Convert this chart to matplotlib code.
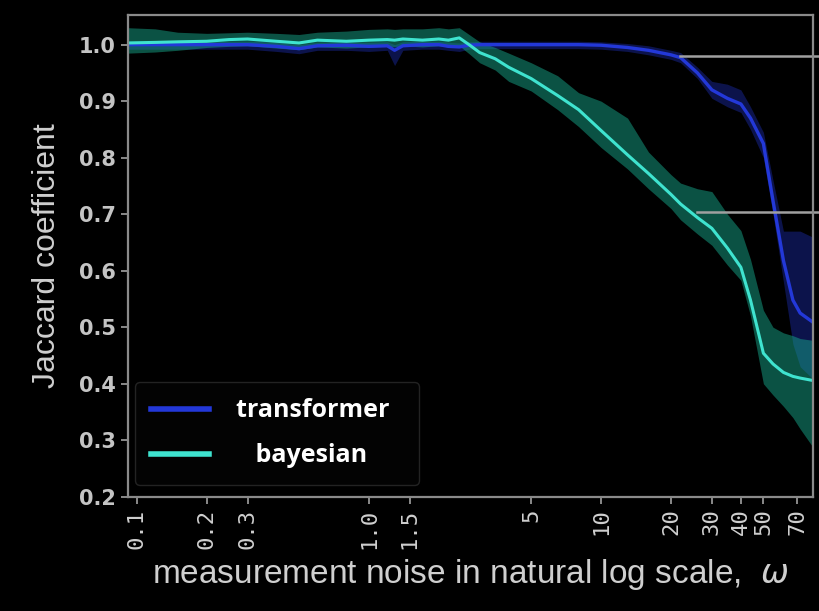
import matplotlib
matplotlib.use('Agg')
import matplotlib.pyplot as plt
from matplotlib.ticker import FixedLocator, FixedFormatter, NullLocator

# noise levels (omega) sampled along the x axis
noise = [0.0915, 0.12, 0.15, 0.2, 0.25, 0.3, 0.4, 0.5, 0.6, 0.8, 1.0, 1.2, 1.29, 1.4,
         1.7, 2.0, 2.2, 2.45, 2.7, 3.0, 3.5, 4.0, 5.0, 6.5, 8.0, 10, 13, 16, 20, 22, 26, 30, 35,
         40, 44, 50, 55, 61, 67, 72, 81]

transformer = [1.0, 1.0, 1.0, 1.0, 1.0, 1.0, 0.997, 0.993, 0.998, 0.999, 0.997, 0.998, 0.99, 0.998,
               1.0, 1.0, 0.997, 0.996, 0.999, 1.0, 1.0, 1.0, 1.0, 1.0, 1.0, 0.999, 0.995, 0.99, 0.982, 0.977,
               0.95, 0.92, 0.905, 0.895, 0.87, 0.825, 0.724, 0.618, 0.548, 0.525, 0.51]
transformer_lo = [0.992, 0.992, 0.992, 0.992, 0.992, 0.992, 0.988, 0.984, 0.99, 0.99, 0.988, 0.99, 0.963, 0.99,
                  0.992, 0.992, 0.99, 0.988, 0.992, 0.993, 0.993, 0.993, 0.993, 0.993, 0.993, 0.992, 0.988, 0.982,
                  0.974, 0.968, 0.94, 0.905, 0.89, 0.88, 0.85, 0.80, 0.70, 0.58, 0.47, 0.43, 0.41]
transformer_hi = [1.006, 1.006, 1.006, 1.006, 1.006, 1.006, 1.004, 1.0, 1.004, 1.005, 1.004, 1.005, 1.0, 1.005,
                  1.006, 1.006, 1.004, 1.003, 1.005, 1.006, 1.006, 1.006, 1.006, 1.006, 1.006, 1.005, 1.002, 0.998,
                  0.99, 0.986, 0.96, 0.935, 0.93, 0.92, 0.89, 0.845, 0.76, 0.67, 0.67, 0.67, 0.66]

bayesian = [1.003, 1.004, 1.005, 1.006, 1.009, 1.01, 1.006, 1.003, 1.008, 1.006, 1.008, 1.009, 1.008, 1.01,
            1.008, 1.01, 1.008, 1.012, 1.0, 0.986, 0.975, 0.96, 0.94, 0.91, 0.885, 0.848, 0.805, 0.772,
            0.735, 0.718, 0.694, 0.675, 0.64, 0.606, 0.548, 0.454, 0.435, 0.42, 0.413, 0.41, 0.406]
bayesian_lo = [0.985, 0.987, 0.99, 0.995, 0.997, 0.998, 0.994, 0.991, 0.996, 0.994, 0.996, 0.997, 0.996, 0.998,
               0.996, 0.998, 0.996, 0.998, 0.984, 0.968, 0.955, 0.935, 0.918, 0.885, 0.855, 0.818, 0.78, 0.745,
               0.71, 0.69, 0.665, 0.645, 0.61, 0.583, 0.52, 0.40, 0.38, 0.36, 0.34, 0.32, 0.29]
bayesian_hi = [1.03, 1.028, 1.022, 1.02, 1.021, 1.022, 1.02, 1.018, 1.022, 1.024, 1.027, 1.028, 1.027, 1.028,
               1.028, 1.03, 1.028, 1.03, 1.018, 1.005, 0.995, 0.985, 0.968, 0.945, 0.915, 0.9, 0.87, 0.81,
               0.77, 0.755, 0.745, 0.74, 0.70, 0.671, 0.62, 0.53, 0.50, 0.49, 0.485, 0.48, 0.477]

xticks = [0.1, 0.2, 0.3, 1.0, 1.5, 5, 10, 20, 30, 40, 50, 70]
xticklabels = ['0.1', '0.2', '0.3', '1.0', '1.5', '5', '10', '20', '30', '40', '50', '70']
yticks = [0.2, 0.3, 0.4, 0.5, 0.6, 0.7, 0.8, 0.9, 1.0]

# pointer lines coming in from the right edge (y value, start x)
pointers = [(0.98, 21.9), (0.703, 25.9)]

blue = '#2338d8'
cyan = '#3fe3cf'
txt = '#cfcfcf'
spine = '#8a8a8a'

fig = plt.figure(figsize=(8.19, 6.11), dpi=100, facecolor='black')
ax = fig.add_axes([0.156, 0.187, 0.837, 0.788], facecolor='black')

ax.fill_between(noise, transformer_lo, transformer_hi, color=blue, alpha=0.35, lw=0)
ax.fill_between(noise, bayesian_lo, bayesian_hi, color='#16a589', alpha=0.5, lw=0)
ax.plot(noise, transformer, color=blue, lw=2.4, label='transformer  ')
ax.plot(noise, bayesian, color=cyan, lw=2.2, label='   bayesian')

for yv, x0 in pointers:
    ax.plot([x0, 90], [yv, yv], color='#a0a0a0', lw=1.8, clip_on=False)

ax.set_xscale('log')
ax.set_xlim(0.0915, 82)
ax.set_ylim(0.2, 1.052)
ax.xaxis.set_major_locator(FixedLocator(xticks))
ax.xaxis.set_major_formatter(FixedFormatter(xticklabels))
ax.xaxis.set_minor_locator(NullLocator())
ax.set_yticks(yticks)
ax.set_yticklabels(['%.1f' % v for v in yticks])

for s in ax.spines.values():
    s.set_color(spine)
    s.set_linewidth(1.6)

ax.tick_params(axis='both', colors=spine, length=5, width=1.4)
for lab in ax.get_yticklabels():
    lab.set_color('#c4c4c4')
    lab.set_fontsize(15)
    lab.set_fontweight('bold')
for lab in ax.get_xticklabels():
    lab.set_color(txt)
    lab.set_fontsize(16)
    lab.set_rotation(90)
    lab.set_family('DejaVu Sans Mono')

ax.set_ylabel('Jaccard coefficient', color=txt, fontsize=23, family='Liberation Sans', labelpad=12)
ax.set_xlabel(r'measurement noise in natural log scale,  $\omega$', color=txt, fontsize=24,
              family='Liberation Sans', labelpad=6)

leg = ax.legend(loc='lower left', bbox_to_anchor=(0.0102, 0.025), borderaxespad=0, frameon=True,
                facecolor='#050505', edgecolor='#2c2c2c', handlelength=2.3, handletextpad=1.1,
                borderpad=0.65, labelspacing=0.8, prop={'family': 'Open Sans', 'weight': 'bold', 'size': 18})
for t in leg.get_texts():
    t.set_color('white')
for l in leg.get_lines():
    l.set_linewidth(4)

fig.savefig('out.png', dpi=100, facecolor='black')
